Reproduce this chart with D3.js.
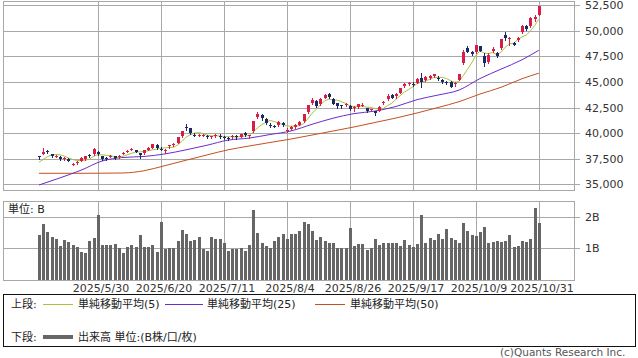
<!DOCTYPE html>
<html><head><meta charset="utf-8">
<script src="https://cdn.jsdelivr.net/npm/d3@7"></script>
<style>
body{margin:0;background:#fff;}
svg{display:block;}
text{font-family:"DejaVu Sans","Noto Sans CJK JP",sans-serif;}
</style></head>
<body>
<svg id="c" width="638" height="358"></svg>
<script>
const dates = ["2025/5/12","2025/5/13","2025/5/14","2025/5/15","2025/5/16","2025/5/19","2025/5/20","2025/5/21","2025/5/22","2025/5/23","2025/5/26","2025/5/27","2025/5/28","2025/5/29","2025/5/30",
"2025/6/2","2025/6/3","2025/6/4","2025/6/5","2025/6/6","2025/6/9","2025/6/10","2025/6/11","2025/6/12","2025/6/13","2025/6/16","2025/6/17","2025/6/18","2025/6/19","2025/6/20","2025/6/23","2025/6/24","2025/6/25","2025/6/26","2025/6/27","2025/6/30",
"2025/7/1","2025/7/2","2025/7/3","2025/7/4","2025/7/7","2025/7/8","2025/7/9","2025/7/10","2025/7/11","2025/7/14","2025/7/15","2025/7/16","2025/7/17","2025/7/18","2025/7/22","2025/7/23","2025/7/24","2025/7/25","2025/7/28","2025/7/29","2025/7/30","2025/7/31",
"2025/8/1","2025/8/4","2025/8/5","2025/8/6","2025/8/7","2025/8/8","2025/8/12","2025/8/13","2025/8/14","2025/8/15","2025/8/18","2025/8/19","2025/8/20","2025/8/21","2025/8/22","2025/8/25","2025/8/26","2025/8/27","2025/8/28","2025/8/29",
"2025/9/1","2025/9/2","2025/9/3","2025/9/4","2025/9/5","2025/9/8","2025/9/9","2025/9/10","2025/9/11","2025/9/12","2025/9/16","2025/9/17","2025/9/18","2025/9/19","2025/9/22","2025/9/24","2025/9/25","2025/9/26","2025/9/29","2025/9/30",
"2025/10/1","2025/10/2","2025/10/3","2025/10/6","2025/10/7","2025/10/8","2025/10/9","2025/10/10","2025/10/14","2025/10/15","2025/10/16","2025/10/17","2025/10/20","2025/10/21","2025/10/22","2025/10/23","2025/10/24","2025/10/27","2025/10/28","2025/10/29","2025/10/30","2025/10/31"];

const open  = [37720,37950,38250,37900,37700,37600,37450,37500,36900,37050,37300,37500,37800,37900,38100,
37700,37550,37650,37700,37650,38050,38150,38350,38300,38000,38000,38350,38550,38850,38450,38300,38700,38850,39050,39700,40550,
40450,39850,39750,39800,39700,39600,39750,39750,39600,39500,39600,39700,39650,40000,39750,40200,41550,41750,41400,40800,40700,40800,
41000,40200,40400,40600,40800,41150,42050,42950,43150,42800,43450,43850,43300,42900,42700,42750,42650,42450,42550,42680,
42450,42300,42150,42200,42950,43300,43750,43600,43950,44600,44850,44850,44950,45400,45200,45350,45600,45400,45200,45000,
45000,44850,45200,46850,48300,47950,47900,48500,47500,46950,48050,47800,48300,49650,49200,48800,49150,49900,50450,50500,51150,51600];
const high  = [37780,38494,38300,37980,37850,37700,37600,37550,37100,37250,37600,37750,37900,38500,38250,
37750,37600,37800,37750,37800,38150,38300,38500,38350,38050,38350,38600,38900,38900,38600,38450,38850,39000,39600,40200,40850,
40500,40000,39900,39900,39800,39750,39900,39900,39700,39600,39800,39800,39950,40050,39850,41200,42065,41850,41450,40950,40800,41150,
41100,40500,40650,40900,41200,41900,42750,43450,43200,43450,43800,43900,43400,42950,42750,42900,42700,42600,42850,42900,
42500,42400,42200,42650,43100,43800,43850,43900,44400,44900,45000,45000,45400,45852,45550,45700,45800,45550,45300,45100,
45050,45000,45800,48150,48527,48050,48600,48550,47800,47800,48400,47900,49250,49945,49450,48900,49400,50549,50550,51400,51600,52411];
const low   = [37480,37900,38050,37600,37600,37400,37400,37250,36850,36950,37250,37400,37650,37800,37800,
37400,37350,37600,37500,37550,37950,38100,38300,38100,37550,37950,38300,38500,38450,38300,38050,38550,38750,39000,39650,40300,
39900,39700,39700,39700,39500,39500,39650,39550,39450,39300,39500,39450,39600,39750,39550,40100,41500,41300,40900,40600,40550,40700,
40650,40100,40300,40500,40750,41050,41950,42800,42550,42700,43400,43450,42800,42500,42500,42600,42300,42200,42500,42600,
42100,42150,41800,42150,42800,43200,43400,43450,43900,44500,44750,44600,44900,44500,45100,45300,45500,45200,44900,44800,
44500,44650,45150,46800,47900,47600,47850,48000,46550,46900,47950,47450,48200,49150,48650,48600,49050,49850,50100,50400,51000,51550];
const close = [37644,38183,38128,37755,37753,37498,37529,37299,36985,37160,37532,37724,37722,38432,37965,
37470,37446,37747,37554,37741,38088,38211,38421,38173,37834,38311,38536,38885,38488,38403,38354,38790,38942,39584,40150,40487,
39986,39762,39785,39810,39587,39688,39821,39646,39570,39459,39678,39663,39901,39819,39775,41171,41826,41456,40998,40674,40654,41069,
40799,40290,40549,40794,41059,41820,42718,43274,42649,43378,43714,43546,42888,42610,42633,42807,42394,42520,42829,42718,
42188,42310,41938,42580,43018,43643,43459,43837,44372,44768,44902,44790,45303,45045,45493,45630,45754,45354,45043,44932,
44550,44936,45769,47944,47950,47734,48580,48088,46847,47672,48277,47582,49185,49316,49307,48641,49299,50512,50219,51307,51325,52411];
// closes of the 4 sessions before the first bar (for the 5-day average)
const prevCloses = [36830,36780,36928,37503];

// volume, billions of shares
const volume = [1.42,1.77,1.51,1.37,1.29,1.08,1.26,1.19,1.11,1.03,0.89,0.84,1.23,1.34,2.05,
1.11,1.11,1.11,1.14,1.00,0.86,1.03,1.11,1.05,1.42,1.05,1.05,1.11,0.89,1.84,0.97,1.00,1.02,1.23,1.58,1.45,
1.24,1.26,1.37,0.97,0.92,1.37,1.29,1.29,1.18,0.92,0.98,0.98,1.02,0.93,1.11,2.21,1.49,1.18,1.08,1.02,1.23,1.35,
1.47,1.29,1.45,1.45,1.56,1.84,1.77,1.56,1.26,1.37,1.23,1.16,1.16,1.02,1.00,1.00,1.63,1.07,1.13,1.13,
0.95,1.00,1.29,1.11,1.16,1.16,1.16,1.16,1.08,1.26,1.11,1.05,1.13,2.07,1.16,1.32,1.26,1.47,1.29,1.61,
1.34,1.28,1.16,1.79,1.55,1.42,1.40,1.51,1.68,1.18,1.19,1.23,1.21,1.23,1.42,1.05,1.07,1.23,1.21,1.29,2.29,1.79];

// 25- and 50-day averages every 5 sessions
const maIdx  = [0,5,10,15,20,25,30,35,40,45,50,55,60,65,70,75,80,85,90,95,100,105,110,115,119];
const ma25   = [34900,35600,36350,37250,37600,37700,37950,38350,38800,39300,39500,39850,40200,40850,41450,41900,42150,42600,43270,43720,44210,45340,46260,47180,48110];
const ma50   = [36050,36050,36050,36060,36080,36300,36800,37330,37850,38350,38720,39070,39410,39800,40196,40590,41030,41470,41960,42500,43070,43820,44480,45320,45864];

const priceTicks = [35000,37500,40000,42500,45000,47500,50000,52500];
const volTicks = [1,2];
const volTickLabels = ["1B","2B"];
const dateLabels = ["2025/5/30","2025/6/20","2025/7/11","2025/8/4","2025/8/26","2025/9/17","2025/10/9","2025/10/31"];

const legendTop = [
  {label:"単純移動平均(5)", color:"#a8c23c"},
  {label:"単純移動平均(25)", color:"#6a2ccc"},
  {label:"単純移動平均(50)", color:"#c4501e"}
];

// ---------- drawing ----------
const svg = d3.select("#c");
const L = 3, R = 574;
const mainTop = 1, mainBot = 190;
const volTop = 201, volBot = 280;

const x = d3.scaleLinear().domain([-8.57, 127.38]).range([L, R]);
const y = d3.scaleLinear().domain([34412, 52941]).range([mainBot, mainTop]);
const yv = d3.scaleLinear().domain([0, 2.5]).range([volBot, volTop]);
const cx = i => Math.round(x(i));

const UP = "#d81e48", DOWN = "#1b2a66", GRID = "#a8a8a8";
const dateIdx = dateLabels.map(d => dates.indexOf(d));

function panel(top, bot) {
  const g = svg.append("g").attr("shape-rendering","crispEdges");
  dateIdx.forEach(i => g.append("line").attr("x1",cx(i)+0.5).attr("x2",cx(i)+0.5)
    .attr("y1",top).attr("y2",bot).attr("stroke",GRID));
  g.append("rect").attr("x",L+0.5).attr("y",top+0.5).attr("width",R-L).attr("height",bot-top)
    .attr("fill","none").attr("stroke",GRID);
  return g;
}

// main panel
const gm = panel(mainTop, mainBot);
priceTicks.forEach(v => {
  const yy = Math.round(y(v)) + 0.5;
  gm.append("line").attr("x1",L).attr("x2",R+6).attr("y1",yy).attr("y2",yy).attr("stroke",GRID);
  svg.append("text").attr("x",585).attr("y",yy).attr("dy","0.36em").attr("font-size",11)
    .attr("fill","#333").text(d3.format(",")(v));
});

// moving averages
const ma5 = close.map((c,i) => {
  const all = prevCloses.concat(close.slice(0, i+1));
  return d3.mean(all.slice(-5));
});
const lineIdx = d3.line().x(d => x(d[0])).y(d => y(d[1]));
const lineSm = d3.line().x(d => x(d[0])).y(d => y(d[1])).curve(d3.curveMonotoneX);
svg.append("path").attr("d", lineSm(maIdx.map((k,j)=>[k,ma50[j]]))).attr("fill","none").attr("stroke",legendTop[2].color).attr("stroke-width",1);
svg.append("path").attr("d", lineSm(maIdx.map((k,j)=>[k,ma25[j]]))).attr("fill","none").attr("stroke",legendTop[1].color).attr("stroke-width",1);
svg.append("path").attr("d", lineIdx(ma5.map((v,i)=>[i,v]))).attr("fill","none").attr("stroke",legendTop[0].color).attr("stroke-width",1);

// candles
const gc = svg.append("g").attr("shape-rendering","crispEdges");
close.forEach((c,i) => {
  const o = open[i], col = c >= o ? UP : DOWN;
  const px = cx(i);
  gc.append("line").attr("x1",px+0.5).attr("x2",px+0.5).attr("y1",Math.round(y(high[i]))).attr("y2",Math.round(y(low[i]))+1).attr("stroke",col);
  const yt = Math.round(y(Math.max(o,c))), yb = Math.round(y(Math.min(o,c)));
  gc.append("rect").attr("x",px-1).attr("y",yt).attr("width",3).attr("height",Math.max(1,yb-yt)).attr("fill",col);
});

// volume panel
const gv = panel(volTop, volBot);
volTicks.forEach((v,k) => {
  const yy = Math.round(yv(v)) + 0.5;
  gv.append("line").attr("x1",L).attr("x2",R+6).attr("y1",yy).attr("y2",yy).attr("stroke",GRID);
  svg.append("text").attr("x",585).attr("y",yy).attr("dy","0.36em").attr("font-size",11)
    .attr("fill","#333").text(volTickLabels[k]);
});
const gvb = svg.append("g").attr("shape-rendering","crispEdges");
volume.forEach((v,i) => {
  const yt = Math.round(yv(v));
  gvb.append("rect").attr("x",cx(i)-1).attr("y",yt).attr("width",3).attr("height",volBot-yt).attr("fill","#666");
});
svg.append("text").attr("x",8).attr("y",213).attr("font-size",11).attr("fill","#222").text("単位: B");

// date labels
dateIdx.forEach((i,k) => {
  svg.append("text").attr("x",cx(i)+3).attr("y",292).attr("text-anchor","middle")
    .attr("font-size",11).attr("fill","#333").text(dateLabels[k]);
});

// legend
svg.append("rect").attr("x",3.5).attr("y",294.5).attr("width",632).attr("height",52)
  .attr("fill","none").attr("stroke","#111").attr("shape-rendering","crispEdges");
svg.append("text").attr("x",11).attr("y",308).attr("font-size",11).attr("fill","#222").text("上段:");
const legX = [[43,73,78],[165,203,207],[315,345,350]];
legendTop.forEach((d,k) => {
  const [a,b,t] = legX[k];
  svg.append("line").attr("x1",a).attr("x2",b).attr("y1",304.5).attr("y2",304.5).attr("stroke",d.color).attr("stroke-width",1);
  svg.append("text").attr("x",t).attr("y",308).attr("font-size",11).attr("fill","#222").text(d.label);
});
svg.append("text").attr("x",11).attr("y",341).attr("font-size",11).attr("fill","#222").text("下段:");
svg.append("line").attr("x1",43).attr("x2",73).attr("y1",337).attr("y2",337).attr("stroke","#666").attr("stroke-width",4);
svg.append("text").attr("x",78).attr("y",341).attr("font-size",11).attr("fill","#222").text("出来高 単位:(B株/口/枚)");

svg.append("text").attr("x",500).attr("y",356).attr("font-size",10.5).attr("fill","#555").text("(c)Quants Research Inc.");
</script>
</body></html>
